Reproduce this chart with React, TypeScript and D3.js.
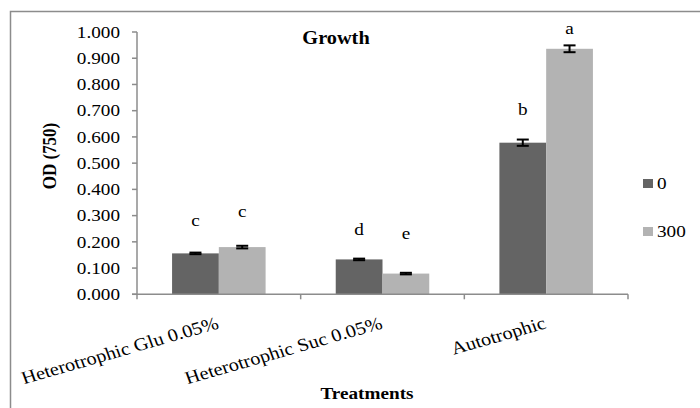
import React from "react";
import * as d3 from "d3";

const categories = ["Heterotrophic Glu 0.05%", "Heterotrophic Suc 0.05%", "Autotrophic"];
const seriesNames = ["0", "300"];
const values0 = [0.156, 0.133, 0.578];
const values300 = [0.18, 0.079, 0.936];
const errors0 = [0.003, 0.003, 0.012];
const errors300 = [0.005, 0.003, 0.013];
const letters0 = ["c", "d", "b"];
const letters300 = ["c", "e", "a"];
const letterPos0 = [0.2615, 0.226, 0.684];
const letterPos300 = [0.2936, 0.211, 0.991];
const yTicks = [0, 0.1, 0.2, 0.3, 0.4, 0.5, 0.6, 0.7, 0.8, 0.9, 1.0];
const colors = ["#646464", "#b3b3b3"];

const SX = 1.13;
const FONT = "Liberation Serif";

function T(props: {
  x: number; y: number; rot?: number; anchor?: string; size?: number; bold?: boolean; dy?: string; children: React.ReactNode;
}) {
  const { x, y, rot, anchor = "start", size = 17, bold, dy, children } = props;
  return (
    <g transform={`translate(${x},${y}) scale(${SX},1)${rot ? ` rotate(${rot})` : ""}`}>
      <text textAnchor={anchor} fontSize={size} fontWeight={bold ? "bold" : "normal"} fontFamily={FONT} dy={dy} fill="#000">
        {children}
      </text>
    </g>
  );
}

export default function App() {
  const W = 700, H = 408;
  const left = 137, right = 628, top = 32, bottom = 294.3;
  const y = d3.scaleLinear().domain([0, 1]).range([bottom, top]);
  const x0 = d3.scaleBand<string>().domain(categories).range([left, right]).padding(0);
  const x1 = d3.scaleBand<string>().domain(seriesNames).range([0, x0.bandwidth()]).paddingInner(0).paddingOuter(0.75);
  const seriesVals = [values0, values300];
  const seriesErr = [errors0, errors300];
  const seriesLetters = [letters0, letters300];
  const seriesLetterPos = [letterPos0, letterPos300];
  const boundaries = [...categories.map((c) => x0(c)!), right];

  return (
    <svg width={W} height={H} style={{ position: "absolute", left: 0, top: 0 }}>
      <rect x={0} y={0} width={W} height={H} fill="#fff" />
      <rect x={10.5} y={11.5} width={W + 10} height={H + 10} fill="none" stroke="#8c8c8c" strokeWidth={1.5} />
      {seriesNames.map((s, si) =>
        categories.map((c, ci) => {
          const bx = x0(c)! + x1(s)!;
          const v = seriesVals[si][ci];
          return (
            <rect key={`b${si}-${ci}`} x={bx} y={y(v)} width={x1.bandwidth()} height={y(0) - y(v)} fill={colors[si]} />
          );
        })
      )}
      <line x1={left} x2={left} y1={top} y2={bottom} stroke="#8c8c8c" strokeWidth={1.5} />
      {yTicks.map((t) => (
        <g key={`yt${t}`}>
          <line x1={left - 5} x2={left} y1={y(t)} y2={y(t)} stroke="#8c8c8c" strokeWidth={1.5} />
          <T x={120} y={y(t)} anchor="end" dy="0.34em">{d3.format(".3f")(t)}</T>
        </g>
      ))}
      <line x1={left - 5} x2={right} y1={bottom} y2={bottom} stroke="#8c8c8c" strokeWidth={1.5} />
      {boundaries.map((b, i) => (
        <line key={`xt${i}`} x1={b} x2={b} y1={bottom} y2={bottom + 5} stroke="#8c8c8c" strokeWidth={1.5} />
      ))}
      {seriesNames.map((s, si) =>
        categories.map((c, ci) => {
          const cx = x0(c)! + x1(s)! + x1.bandwidth() / 2;
          const v = seriesVals[si][ci];
          const e = seriesErr[si][ci];
          return (
            <g key={`e${si}-${ci}`} stroke="#000" strokeWidth={2}>
              <line x1={cx} x2={cx} y1={y(v + e)} y2={y(v - e)} />
              <line x1={cx - 6} x2={cx + 6} y1={y(v + e)} y2={y(v + e)} />
              <line x1={cx - 6} x2={cx + 6} y1={y(v - e)} y2={y(v - e)} />
            </g>
          );
        })
      )}
      {seriesNames.map((s, si) =>
        categories.map((c, ci) => {
          const cx = x0(c)! + x1(s)! + x1.bandwidth() / 2;
          return (
            <T key={`l${si}-${ci}`} x={cx} y={y(seriesLetterPos[si][ci])} anchor="middle">
              {seriesLetters[si][ci]}
            </T>
          );
        })
      )}
      {categories.map((c) => (
        <T key={`c${c}`} x={x0(c)! + x0.bandwidth() / 2 + 1} y={328} anchor="end" rot={-18} size={18}>
          {c}
        </T>
      ))}
      <T x={336} y={44} anchor="middle" bold size={18}>Growth</T>
      <T x={367} y={399} anchor="middle" bold>Treatments</T>
      <T x={49} y={156} anchor="middle" bold rot={-90} dy="0.35em">OD (750)</T>
      {seriesNames.map((s, si) => (
        <g key={`lg${s}`}>
          <rect x={643} y={179 + si * 48} width={10} height={9} fill={colors[si]} />
          <T x={657} y={189 + si * 48}>{s}</T>
        </g>
      ))}
    </svg>
  );
}
